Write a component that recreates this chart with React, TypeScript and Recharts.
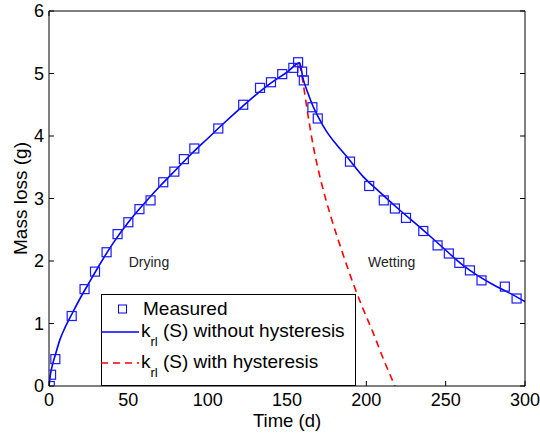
import React from "react";
import { ComposedChart, Line, Scatter, XAxis, YAxis, Legend, ReferenceDot } from "recharts";

const measuredDays = [
  0.5, 1.3, 4, 14.3, 22.4, 29, 36.3, 43.2, 50, 57, 64, 72, 79, 85, 91.6, 106.7, 122.4, 133, 139.9, 147, 154, 157,
  159.5, 160.6, 166, 169.4, 189.7, 201.8, 211, 218, 225, 235.9, 244.9, 252, 258.6, 265.3, 272.6, 287.3, 294.7,
];
const measuredMass = [
  0.0, 0.18, 0.43, 1.12, 1.55, 1.83, 2.14, 2.43, 2.62, 2.83, 2.97, 3.26, 3.43, 3.63, 3.8, 4.12, 4.5, 4.77, 4.86,
  4.99, 5.09, 5.18, 5.03, 4.89, 4.46, 4.28, 3.59, 3.2, 2.97, 2.84, 2.69, 2.48, 2.25, 2.12, 1.97, 1.85, 1.69, 1.59,
  1.4,
];

// k_rl(S) without hysteresis
const noHystDays = [
  0, 1, 2, 4, 7, 10, 15, 20, 25, 30, 40, 50, 60, 70, 80, 90, 100, 110, 120, 130, 140, 150, 158,
  160, 163, 166, 170, 175, 180, 188, 198, 209, 219, 236, 248, 261, 270, 280, 290, 300,
];
const noHystMass = [
  0, 0.2, 0.32, 0.5, 0.75, 0.93, 1.18, 1.42, 1.64, 1.86, 2.27, 2.62, 2.92, 3.2, 3.46, 3.72, 3.96, 4.2, 4.43, 4.65,
  4.85, 5.02, 5.17, 4.93, 4.7, 4.5, 4.29, 4.07, 3.9, 3.66, 3.35, 3.09, 2.86, 2.49, 2.22, 1.93, 1.77, 1.62, 1.49,
  1.35,
];

// k_rl(S) with hysteresis
const hystDays = [158, 160, 163, 167, 172, 178, 185, 192, 198, 204, 210, 218];
const hystMass = [5.15, 4.87, 4.37, 3.78, 3.22, 2.68, 2.13, 1.62, 1.23, 0.87, 0.48, 0];

const switchDay = 158;
const switchTop = 5.15;

const xTicks = [0, 50, 100, 150, 200, 250, 300];
const yTicks = [0, 1, 2, 3, 4, 5, 6];

const phaseLabels = ["Drying", "Wetting"];
const phaseDays = [63, 216];
const phaseMass = [1.98, 1.98];

const font = "'Liberation Sans', Arial, Helvetica, sans-serif";
const BLUE = "#0000ff";
const RED = "#ff0000";

const measured = measuredDays.map((t, i) => ({ t, v: measuredMass[i] }));
const noHyst = noHystDays.map((t, i) => ({ t, v: noHystMass[i] }));
const hyst = hystDays.map((t, i) => ({ t, v: hystMass[i] }));
const switchLine = [
  { t: switchDay, v: 0 },
  { t: switchDay, v: switchTop },
];

const XTick = (p: any) => {
  const axisY = p.y - 7;
  return (
    <g>
      <line x1={p.x} x2={p.x} y1={axisY} y2={axisY - 5} stroke="#000" />
      <text x={p.x} y={p.y} dy="0.72em" textAnchor="middle" fontSize={18} fontFamily={font} fill="#000">
        {p.payload.value}
      </text>
    </g>
  );
};

const YTick = (p: any) => {
  const axisX = p.x + 5;
  return (
    <g>
      <line x1={axisX} x2={axisX + 5} y1={p.y} y2={p.y} stroke="#000" />
      <text x={p.x} y={p.y} dy="0.36em" textAnchor="end" fontSize={18} fontFamily={font} fill="#000">
        {p.payload.value}
      </text>
    </g>
  );
};

const yTitle = (props: any) => {
  const vb = props.viewBox;
  const cx = vb.x + 18.5;
  const cy = vb.y + vb.height / 2;
  return (
    <text
      x={cx}
      y={cy}
      transform={`rotate(-90, ${cx}, ${cy})`}
      textAnchor="middle"
      fontSize={19}
      fontFamily={font}
      fill="#000"
    >
      Mass loss (g)
    </text>
  );
};

const LegendBox = () => (
  <svg width={255} height={92} style={{ display: "block" }} fontFamily={font}>
    <rect x={0.5} y={0.5} width={254} height={91} fill="#fff" stroke="#000" />
    <rect x={17.5} y={11} width={8} height={8} fill="none" stroke={BLUE} />
    <text x={42} y={21} fontSize={19}>
      Measured
    </text>
    <line x1={0} x2={38} y1={38} y2={38} stroke={BLUE} strokeWidth={1.5} />
    <text x={40} y={43} fontSize={19}>
      k
      <tspan fontSize={13} dy={9}>
        rl
      </tspan>
      <tspan dy={-9}> (S) without hysteresis</tspan>
    </text>
    <line x1={0} x2={38} y1={69} y2={69} stroke={RED} strokeWidth={1.5} strokeDasharray="7 5" />
    <text x={40} y={74} fontSize={19}>
      k
      <tspan fontSize={13} dy={9}>
        rl
      </tspan>
      <tspan dy={-9}> (S) with hysteresis</tspan>
    </text>
  </svg>
);

const Square = (p: any) => (
  <rect x={p.cx - 4.5} y={p.cy - 4.5} width={9} height={9} fill="none" stroke="#1a1aff" strokeWidth={1.2} />
);

export default function App() {
  return (
    <div style={{ position: "absolute", left: 0, top: 0, width: 540, height: 434, background: "#fff" }}>
      <ComposedChart width={540} height={434} margin={{ top: 11, right: 15, bottom: 0, left: 8 }}>
        <XAxis
          dataKey="t"
          type="number"
          domain={[0, 300]}
          ticks={xTicks}
          allowDataOverflow
          height={48}
          tickSize={7}
          tickMargin={0}
          tickLine={false}
          tick={XTick}
          axisLine={{ stroke: "#000" }}
          label={{ value: "Time (d)", position: "insideBottom", offset: 7, fontSize: 18.5, fill: "#000", fontFamily: font }}
        />
        <XAxis
          xAxisId="top"
          orientation="top"
          type="number"
          domain={[0, 300]}
          ticks={xTicks}
          allowDataOverflow
          mirror
          height={1}
          tickSize={5}
          tickFormatter={() => ""}
          axisLine={{ stroke: "#000" }}
          tickLine={{ stroke: "#000" }}
        />
        <YAxis
          dataKey="v"
          type="number"
          domain={[0, 6]}
          ticks={yTicks}
          allowDataOverflow
          width={41}
          tickSize={5}
          tickMargin={0}
          tickLine={false}
          tick={YTick}
          axisLine={{ stroke: "#000" }}
          label={yTitle}
        />
        <YAxis
          yAxisId="right"
          orientation="right"
          type="number"
          domain={[0, 6]}
          ticks={yTicks}
          allowDataOverflow
          mirror
          width={1}
          tickSize={5}
          tickFormatter={() => ""}
          axisLine={{ stroke: "#000" }}
          tickLine={{ stroke: "#000" }}
        />
        <Line
          data={switchLine}
          dataKey="v"
          xAxisId="top"
          yAxisId="right"
          type="linear"
          stroke="#333"
          strokeWidth={1}
          strokeDasharray="6 5"
          dot={false}
          isAnimationActive={false}
        />
        <Line
          data={hyst}
          dataKey="v"
          type="monotone"
          stroke={RED}
          strokeWidth={1.6}
          strokeDasharray="7 5"
          dot={false}
          isAnimationActive={false}
        />
        <Line
          data={noHyst}
          dataKey="v"
          type="monotone"
          stroke={BLUE}
          strokeWidth={1.6}
          dot={false}
          isAnimationActive={false}
        />
        <Scatter data={measured} dataKey="v" shape={Square} isAnimationActive={false} />
        {phaseLabels.map((name, i) => (
          <ReferenceDot
            key={name}
            x={phaseDays[i]}
            y={phaseMass[i]}
            r={0}
            fill="none"
            stroke="none"
            label={{ value: name, position: "center", fontSize: 14, fill: "#222", fontFamily: font }}
          />
        ))}
        <Legend
          layout="vertical"
          align="center"
          verticalAlign="middle"
          content={() => <LegendBox />}
          wrapperStyle={{ left: 101, top: 294, width: 255, height: 92 }}
        />
      </ComposedChart>
    </div>
  );
}
